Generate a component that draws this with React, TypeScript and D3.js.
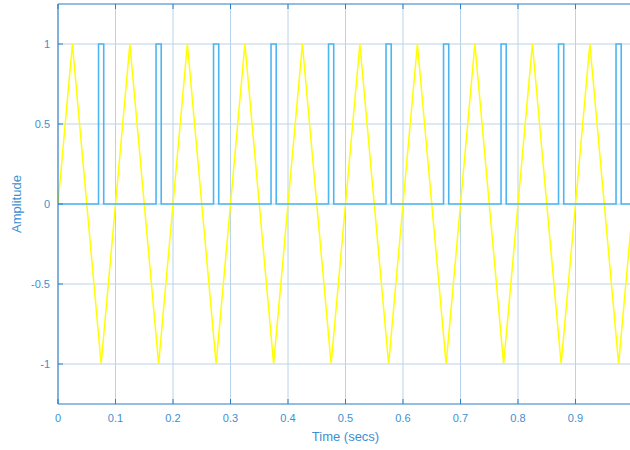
import React from "react";
import * as d3 from "d3";

const triangleTimes = [0, 0.025, 0.075, 0.125, 0.175, 0.225, 0.275, 0.325, 0.375, 0.425, 0.475, 0.525, 0.575, 0.625, 0.675, 0.725, 0.775, 0.825, 0.875, 0.925, 0.975, 1.0];
const triangleValues = [0, 1, -1, 1, -1, 1, -1, 1, -1, 1, -1, 1, -1, 1, -1, 1, -1, 1, -1, 1, -1, 0];

const pulseStarts = [0.0705, 0.1705, 0.2705, 0.3705, 0.4705, 0.5705, 0.6705, 0.7705, 0.8705, 0.9705];
const pulseEnds = [0.0795, 0.1795, 0.2795, 0.3795, 0.4795, 0.5795, 0.6795, 0.7795, 0.8795, 0.9795];

const xTicks = [0, 0.1, 0.2, 0.3, 0.4, 0.5, 0.6, 0.7, 0.8, 0.9];
const yTicks = [-1, -0.5, 0, 0.5, 1];

const W = 630, H = 450;
const L = 58, R = 633, T = 4, B = 404;

export default function App() {
  const x = d3.scaleLinear().domain([0, 1]).range([L, R]);
  const y = d3.scaleLinear().domain([-1.25, 1.25]).range([B, T]);

  const triPts: [number, number][] = triangleTimes.map((t, i) => [t, triangleValues[i]]);
  const sqPts: [number, number][] = [[0, 0]];
  pulseStarts.forEach((s, i) => {
    sqPts.push([s, 0], [s, 1], [pulseEnds[i], 1], [pulseEnds[i], 0]);
  });
  sqPts.push([1, 0]);

  const line = d3.line<[number, number]>().x(d => x(d[0])).y(d => y(d[1]));

  const axisColor = "#2a7fc4";
  const labelColor = "#3d8fd0";
  const gridColor = "#b9d4ea";
  const font = "'Liberation Sans', Arial, Helvetica, sans-serif";

  return (
    <svg width={W} height={H} style={{ position: "absolute", left: 0, top: 0, background: "#fff" }}>
      <defs>
        <clipPath id="plotclip">
          <rect x={L} y={T} width={R - L} height={B - T} />
        </clipPath>
      </defs>
      <rect x={0} y={0} width={W} height={H} fill="#fff" />
      {/* grid */}
      {xTicks.filter(t => t > 0).map(t => (
        <line key={"gx" + t} x1={x(t)} x2={x(t)} y1={T} y2={B} stroke={gridColor} strokeWidth={1} />
      ))}
      {yTicks.map(t => (
        <line key={"gy" + t} x1={L} x2={R} y1={y(t)} y2={y(t)} stroke={gridColor} strokeWidth={1} />
      ))}
      <g clipPath="url(#plotclip)">
        <path d={line(triPts) || ""} fill="none" stroke="#ffff00" strokeWidth={1.5} strokeLinejoin="miter" />
        <path d={line(sqPts) || ""} fill="none" stroke="#4db6f2" strokeWidth={1.6} />
      </g>
      {/* axes box */}
      <line x1={L} x2={R} y1={B} y2={B} stroke={axisColor} strokeWidth={1.2} />
      <line x1={L} x2={R} y1={T} y2={T} stroke={axisColor} strokeWidth={1.2} />
      <line x1={L} x2={L} y1={T} y2={B} stroke={axisColor} strokeWidth={1.2} />
      {/* ticks */}
      {xTicks.map(t => (
        <g key={"xt" + t}>
          <line x1={x(t)} x2={x(t)} y1={B} y2={B - 5} stroke={axisColor} strokeWidth={1} />
          <line x1={x(t)} x2={x(t)} y1={T} y2={T + 5} stroke={axisColor} strokeWidth={1} />
          <text x={x(t)} y={B + 18} textAnchor="middle" fontFamily={font} fontSize={11} fill={labelColor}>
            {String(t)}
          </text>
        </g>
      ))}
      {yTicks.map(t => (
        <g key={"yt" + t}>
          <line x1={L} x2={L + 5} y1={y(t)} y2={y(t)} stroke={axisColor} strokeWidth={1} />
          <text x={L - 8} y={y(t) + 4} textAnchor="end" fontFamily={font} fontSize={11} fill={labelColor}>
            {String(t)}
          </text>
        </g>
      ))}
      <text x={(L + R) / 2} y={441} textAnchor="middle" fontFamily={font} fontSize={13} fill={labelColor}>
        Time (secs)
      </text>
      <text transform={`translate(21, ${y(0)}) rotate(-90)`} textAnchor="middle" fontFamily={font} fontSize={13} fill={labelColor}>
        Amplitude
      </text>
    </svg>
  );
}
